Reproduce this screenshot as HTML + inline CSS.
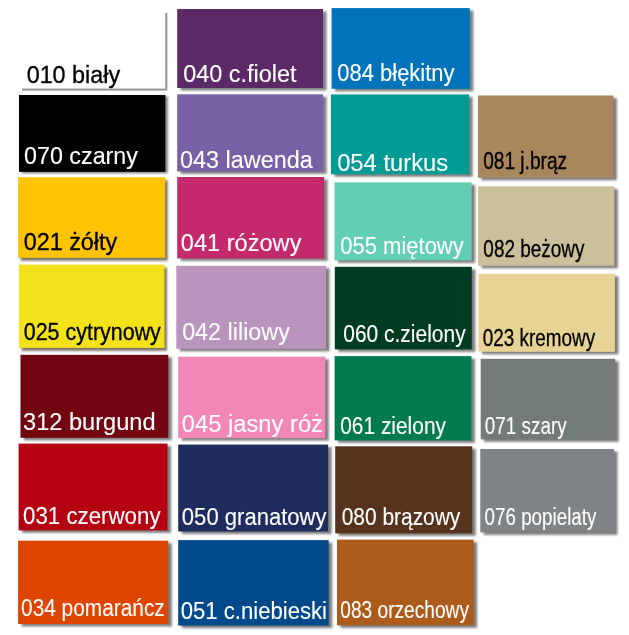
<!DOCTYPE html>
<html lang="pl"><head><meta charset="utf-8"><title>Paleta kolorów</title>
<style>
html,body{margin:0;padding:0;background:#fff;}
body{width:629px;height:635px;overflow:hidden;font-family:"Liberation Sans",Arial,sans-serif;}
svg{display:block;}
text{font-family:"Liberation Sans",Arial,sans-serif;font-size:23px;}
.k{fill:#000;stroke:#000;stroke-width:.3px;}
.w{fill:#fff;stroke:#fff;stroke-width:.12px;}
</style></head><body>
<svg width="629" height="635" viewBox="0 0 629 635">
<defs>
<filter id="f_a" x="0" y="0" width="629" height="635" filterUnits="userSpaceOnUse"><feGaussianBlur stdDeviation="1"/></filter>
<filter id="f_s1" x="0" y="0" width="629" height="635" filterUnits="userSpaceOnUse"><feGaussianBlur stdDeviation="0.6"/></filter>
<filter id="f_s2" x="0" y="0" width="629" height="635" filterUnits="userSpaceOnUse"><feGaussianBlur stdDeviation="0.8"/></filter>
<filter id="f_s3" x="0" y="0" width="629" height="635" filterUnits="userSpaceOnUse"><feGaussianBlur stdDeviation="1"/></filter>
</defs>
<rect width="629" height="635" fill="#fff"/>
<g filter="url(#f_a)" opacity="0.5" fill="#000">
<rect x="24" y="357.3" width="147.8" height="83"/>
<rect x="22.1" y="446.1" width="148.9" height="86.8"/>
<rect x="21.6" y="543.2" width="150.2" height="83.3"/>
<rect x="180.7" y="11.5" width="145.8" height="79"/>
<rect x="180.7" y="96.8" width="145.9" height="77.1"/>
<rect x="180.7" y="179.5" width="146.9" height="81.4"/>
<rect x="179.8" y="268.3" width="149.7" height="83"/>
<rect x="181.7" y="359.2" width="147" height="81.4"/>
<rect x="181.7" y="447.1" width="149.9" height="86.9"/>
<rect x="181.7" y="542.6" width="150.5" height="85.5"/>
<rect x="335.1" y="10.6" width="138.2" height="80.7"/>
<rect x="334.5" y="96.9" width="138.1" height="79.9"/>
<rect x="338" y="184.9" width="137.1" height="78"/>
<rect x="338.3" y="269.3" width="137" height="82.6"/>
<rect x="338.1" y="358.6" width="136.8" height="84.3"/>
<rect x="338.7" y="448.8" width="137.1" height="87.1"/>
<rect x="340.5" y="542.1" width="136.6" height="85.8"/>
<rect x="481.4" y="98" width="135.5" height="82.3"/>
<rect x="481.6" y="188.8" width="136.2" height="79.5"/>
<rect x="482" y="276.3" width="136.4" height="78"/>
<rect x="484.2" y="361.3" width="134.5" height="80.6"/>
<rect x="483.8" y="451.5" width="133.7" height="83.4"/>
</g>
<g filter="url(#f_s1)" opacity="0.42" fill="#000">
<rect x="22" y="13" width="145.3" height="77.6"/>
</g>
<g filter="url(#f_s2)" opacity="0.6" fill="#281e00">
<rect x="20.6" y="180.2" width="147.1" height="80.6"/>
<rect x="21.5" y="267.6" width="145.5" height="83.3"/>
</g>
<g filter="url(#f_s3)" opacity="0.5" fill="#000">
<rect x="21.5" y="96.5" width="146.3" height="76.8"/>
</g>
<g>
<rect x="20" y="11" width="145.3" height="77.6" fill="#ffffff"/>
<rect x="19" y="95" width="146.3" height="76.8" fill="#000000"/>
<rect x="18.1" y="177.2" width="147.1" height="80.6" fill="#FEC404"/>
<rect x="19" y="264.6" width="145.5" height="83.3" fill="#F3E21A"/>
<rect x="20.5" y="354.8" width="147.8" height="83" fill="#72050F"/>
<rect x="18.6" y="443.6" width="148.9" height="86.8" fill="#B50012"/>
<rect x="18.1" y="540.7" width="150.2" height="83.3" fill="#DE4500"/>
<rect x="177.2" y="9" width="145.8" height="79" fill="#5B2A66"/>
<rect x="177.2" y="94.3" width="145.9" height="77.1" fill="#7760A5"/>
<rect x="177.2" y="177" width="146.9" height="81.4" fill="#C4296B"/>
<rect x="176.3" y="265.8" width="149.7" height="83" fill="#B995BE"/>
<rect x="178.2" y="356.7" width="147" height="81.4" fill="#F186B7"/>
<rect x="178.2" y="444.6" width="149.9" height="86.9" fill="#1E2C5E"/>
<rect x="178.2" y="540.1" width="150.5" height="85.5" fill="#00498A"/>
<rect x="331.6" y="8.1" width="138.2" height="80.7" fill="#0073BA"/>
<rect x="331" y="94.4" width="138.1" height="79.9" fill="#009B95"/>
<rect x="334.5" y="182.4" width="137.1" height="78" fill="#62CEB6"/>
<rect x="334.8" y="266.8" width="137" height="82.6" fill="#003C22"/>
<rect x="334.6" y="356.1" width="136.8" height="84.3" fill="#007B4E"/>
<rect x="335.2" y="446.3" width="137.1" height="87.1" fill="#55331D"/>
<rect x="337" y="539.6" width="136.6" height="85.8" fill="#AD5B1B"/>
<rect x="477.9" y="95.5" width="135.5" height="82.3" fill="#A7875B"/>
<rect x="478.1" y="186.3" width="136.2" height="79.5" fill="#CCBF9C"/>
<rect x="478.5" y="273.8" width="136.4" height="78" fill="#E7D494"/>
<rect x="480.7" y="358.8" width="134.5" height="80.6" fill="#737B78"/>
<rect x="480.3" y="449" width="133.7" height="83.4" fill="#7F8385"/>
</g>
<g>
<text x="26.65" y="83.10" textLength="93.50" lengthAdjust="spacingAndGlyphs" class="k">010 biały</text>
<text x="24.05" y="163.80" textLength="113.90" lengthAdjust="spacingAndGlyphs" class="w">070 czarny</text>
<text x="23.65" y="249.70" textLength="93.60" lengthAdjust="spacingAndGlyphs" class="k">021 żółty</text>
<text x="23.75" y="340.20" textLength="137.10" lengthAdjust="spacingAndGlyphs" class="k">025 cytrynowy</text>
<text x="23.05" y="430.20" textLength="132.60" lengthAdjust="spacingAndGlyphs" class="w">312 burgund</text>
<text x="23.05" y="523.90" textLength="137.50" lengthAdjust="spacingAndGlyphs" class="w">031 czerwony</text>
<text x="21.05" y="616.00" textLength="143.70" lengthAdjust="spacingAndGlyphs" class="w">034 pomarańcz</text>
<text x="183.15" y="82.20" textLength="113.40" lengthAdjust="spacingAndGlyphs" class="w">040 c.fiolet</text>
<text x="180.05" y="168.30" textLength="132.80" lengthAdjust="spacingAndGlyphs" class="w">043 lawenda</text>
<text x="180.85" y="251.00" textLength="120.60" lengthAdjust="spacingAndGlyphs" class="w">041 różowy</text>
<text x="182.15" y="339.70" textLength="107.70" lengthAdjust="spacingAndGlyphs" class="w">042 liliowy</text>
<text x="181.85" y="431.80" textLength="141.10" lengthAdjust="spacingAndGlyphs" class="w">045 jasny róż</text>
<text x="181.85" y="525.00" textLength="144.70" lengthAdjust="spacingAndGlyphs" class="w">050 granatowy</text>
<text x="180.65" y="618.90" textLength="146.40" lengthAdjust="spacingAndGlyphs" class="w">051 c.niebieski</text>
<text x="337.35" y="80.90" textLength="117.10" lengthAdjust="spacingAndGlyphs" class="w">084 błękitny</text>
<text x="337.15" y="171.00" textLength="111.10" lengthAdjust="spacingAndGlyphs" class="w">054 turkus</text>
<text x="340.35" y="254.30" textLength="123.40" lengthAdjust="spacingAndGlyphs" class="w">055 miętowy</text>
<text x="343.25" y="342.40" textLength="122.40" lengthAdjust="spacingAndGlyphs" class="w">060 c.zielony</text>
<text x="340.25" y="433.70" textLength="105.70" lengthAdjust="spacingAndGlyphs" class="w">061 zielony</text>
<text x="341.65" y="525.00" textLength="118.70" lengthAdjust="spacingAndGlyphs" class="w">080 brązowy</text>
<text x="340.35" y="617.80" textLength="128.60" lengthAdjust="spacingAndGlyphs" class="w">083 orzechowy</text>
<text x="483.15" y="168.60" textLength="84.00" lengthAdjust="spacingAndGlyphs" class="k">081 j.brąz</text>
<text x="483.35" y="256.90" textLength="101.10" lengthAdjust="spacingAndGlyphs" class="k">082 beżowy</text>
<text x="482.75" y="345.60" textLength="112.40" lengthAdjust="spacingAndGlyphs" class="k">023 kremowy</text>
<text x="484.85" y="434.00" textLength="81.80" lengthAdjust="spacingAndGlyphs" class="w">071 szary</text>
<text x="484.55" y="524.60" textLength="111.90" lengthAdjust="spacingAndGlyphs" class="w">076 popielaty</text>
</g>
</svg>
</body></html>
